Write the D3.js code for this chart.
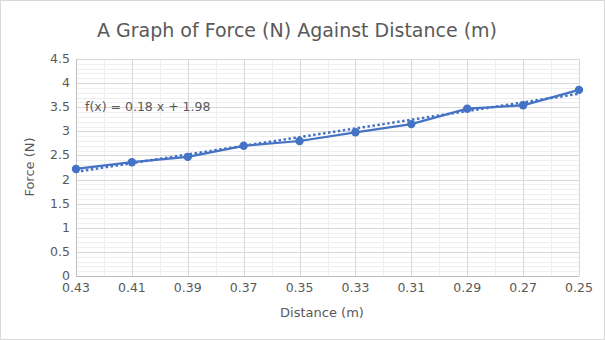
<!DOCTYPE html>
<html><head><meta charset="utf-8">
<script src="https://cdn.jsdelivr.net/npm/d3@7/dist/d3.min.js"></script>
<style>body{margin:0;background:#fff}svg{display:block}text{font-family:"DejaVu Sans",sans-serif;fill:#595959}</style>
</head><body>
<script>
const distances = [0.43, 0.41, 0.39, 0.37, 0.35, 0.33, 0.31, 0.29, 0.27, 0.25];
const forces = [2.22, 2.36, 2.47, 2.70, 2.80, 2.98, 3.15, 3.47, 3.54, 3.86];
const trendSlope = 0.18, trendIntercept = 1.98;
const yTicks = [0, 0.5, 1, 1.5, 2, 2.5, 3, 3.5, 4, 4.5];
const xTickLabels = ["0.43","0.41","0.39","0.37","0.35","0.33","0.31","0.29","0.27","0.25"];
const titleText = "A Graph of Force (N) Against Distance (m)";
const xTitle = "Distance (m)", yTitle = "Force (N)";
const eqText = "f(x) = 0.18 x + 1.98";

const W = 605, H = 340;
const m = {l:76, r:26, t:59, b:64};
const svg = d3.select("body").append("svg").attr("width", W).attr("height", H);
svg.append("rect").attr("x",0.5).attr("y",0.5).attr("width",W-1).attr("height",H-1)
  .attr("fill","#fff").attr("stroke","#d9d9d9");

const x = d3.scaleLinear().domain([0.43, 0.25]).range([m.l, W-m.r]);
const y = d3.scaleLinear().domain([0, 4.5]).range([H-m.b, m.t]);
const g = svg.append("g");

// minor grid
const yMinor = d3.range(0, 4.5001, 0.1);
g.selectAll(".ymin").data(yMinor).enter().append("line")
  .attr("x1", m.l).attr("x2", W-m.r).attr("y1", d=>Math.round(y(d))+0.5).attr("y2", d=>Math.round(y(d))+0.5)
  .attr("stroke","#eeeeee");
const xMinor = d3.range(0.42, 0.25, -0.02);
g.selectAll(".xmin").data(xMinor).enter().append("line")
  .attr("y1", m.t).attr("y2", H-m.b).attr("x1", d=>Math.round(x(d))+0.5).attr("x2", d=>Math.round(x(d))+0.5)
  .attr("stroke","#eeeeee");
// major grid
g.selectAll(".ymaj").data(yTicks).enter().append("line")
  .attr("x1", m.l).attr("x2", W-m.r).attr("y1", d=>Math.round(y(d))+0.5).attr("y2", d=>Math.round(y(d))+0.5)
  .attr("stroke","#d9d9d9");
g.selectAll(".xmaj").data(distances).enter().append("line")
  .attr("y1", m.t).attr("y2", H-m.b).attr("x1", d=>Math.round(x(d))+0.5).attr("x2", d=>Math.round(x(d))+0.5)
  .attr("stroke","#d9d9d9");
// axes lines
g.append("line").attr("x1", m.l).attr("x2", W-m.r).attr("y1", Math.round(y(0))+0.5).attr("y2", Math.round(y(0))+0.5).attr("stroke","#bfbfbf");
g.append("line").attr("x1", m.l+0.5).attr("x2", m.l+0.5).attr("y1", m.t).attr("y2", H-m.b).attr("stroke","#bfbfbf");

// tick labels
g.selectAll(".yt").data(yTicks).enter().append("text")
  .attr("x", m.l-6).attr("y", d=>y(d)+4).attr("text-anchor","end").attr("font-size",12.5).text(d=>d);
g.selectAll(".xt").data(distances).enter().append("text")
  .attr("x", d=>x(d)).attr("y", H-m.b+15.5).attr("text-anchor","middle").attr("font-size",12.5).text((d,i)=>xTickLabels[i]);

// titles
svg.append("text").attr("x", 297).attr("y", 37).attr("text-anchor","middle").attr("font-size",19).text(titleText);
svg.append("text").attr("x", 322).attr("y", 317).attr("text-anchor","middle").attr("font-size",13).text(xTitle);
svg.append("text").attr("transform","translate(34,167) rotate(-90)").attr("text-anchor","middle").attr("font-size",13).text(yTitle);

// trendline (index-based)
const trendPts = distances.map((d,i)=>[d, trendSlope*(i+1)+trendIntercept]);
g.append("path").datum(trendPts)
  .attr("d", d3.line().x(d=>x(d[0])).y(d=>y(d[1])))
  .attr("fill","none").attr("stroke","#4472c4").attr("stroke-width",2.5).attr("stroke-dasharray","2.5,2.5");

// series
const pts = distances.map((d,i)=>[d, forces[i]]);
g.append("path").datum(pts)
  .attr("d", d3.line().x(d=>x(d[0])).y(d=>y(d[1])))
  .attr("fill","none").attr("stroke","#4472c4").attr("stroke-width",2.2);
g.selectAll(".pt").data(pts).enter().append("circle")
  .attr("cx", d=>x(d[0])).attr("cy", d=>y(d[1])).attr("r",4.2).attr("fill","#4472c4");

svg.append("text").attr("x", 85).attr("y", 111).attr("font-size",12.5).text(eqText);
</script>
</body></html>
